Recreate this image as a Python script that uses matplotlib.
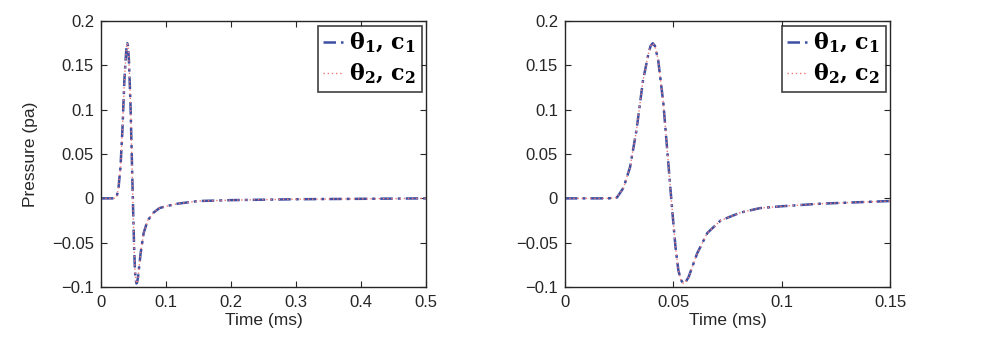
import matplotlib
matplotlib.use("Agg")
import matplotlib.pyplot as plt
import matplotlib.ticker as plticker

# pressure pulse (time in ms, pressure in pa)
time_ms = [0.0, 0.020, 0.024, 0.027, 0.030, 0.033, 0.036, 0.0385, 0.0395, 0.0405,
           0.0415, 0.043, 0.0454, 0.0477, 0.0495, 0.051, 0.0523, 0.0535, 0.0546,
           0.0555, 0.057, 0.061, 0.0657, 0.0718, 0.081, 0.090, 0.0995, 0.118,
           0.150, 0.200, 0.300, 0.400, 0.500]
p_theta1 = [0.0, 0.0, 0.001, 0.012, 0.035, 0.077, 0.133, 0.163, 0.172, 0.175,
            0.172, 0.156, 0.107, 0.039, -0.014, -0.055, -0.081, -0.092, -0.096,
            -0.095, -0.089, -0.062, -0.039, -0.025, -0.016, -0.011, -0.009, -0.006,
            -0.003, -0.002, -0.001, -0.0005, 0.0]
p_theta2 = list(p_theta1)

labels = [r"$\mathbf{\theta_1,\,c_1}$", r"$\mathbf{\theta_2,\,c_2}$"]
xlims = [(0, 0.5), (0, 0.15)]
xticks = [[0, 0.1, 0.2, 0.3, 0.4, 0.5], [0, 0.05, 0.1, 0.15]]
yticks = [-0.1, -0.05, 0, 0.05, 0.1, 0.15, 0.2]

plt.rcParams["font.family"] = ["Liberation Sans", "DejaVu Sans"]
plt.rcParams["mathtext.fontset"] = "dejavuserif"
plt.rcParams["axes.unicode_minus"] = True

txt = "#262626"
fig = plt.figure(figsize=(9.85, 3.44), dpi=100)
boxes = [[0.1025, 0.1657, 0.330, 0.773], [0.5736, 0.1657, 0.330, 0.773]]

def fmt(v, pos):
    s = ("%g" % v)
    return s.replace("-", "\u2212")

for i, box in enumerate(boxes):
    ax = fig.add_axes(box)
    ax.plot(time_ms, p_theta1, color="#3b4fa3", lw=1.8, ls=(0, (5, 2, 1.2, 2)), label=labels[0])
    ax.plot(time_ms, p_theta2, color="#f07878", lw=1.0, ls=(0, (1, 2)), label=labels[1])
    ax.set_xlim(*xlims[i])
    ax.set_ylim(-0.1, 0.2)
    ax.set_xticks(xticks[i])
    ax.set_yticks(yticks)
    ax.xaxis.set_major_formatter(plticker.FuncFormatter(fmt))
    ax.yaxis.set_major_formatter(plticker.FuncFormatter(fmt))
    ax.tick_params(direction="in", top=True, right=True, length=4, width=0.8,
                   labelsize=12, colors=txt)
    ax.tick_params(axis="x", pad=6)
    ax.tick_params(axis="y", pad=5)
    for sp in ax.spines.values():
        sp.set_linewidth(1.0)
        sp.set_color(txt)
    ax.set_xlabel("Time (ms)", fontsize=12.5, color=txt, labelpad=2)
    if i == 0:
        ax.set_ylabel("Pressure (pa)", fontsize=12.5, color=txt, labelpad=10)
    leg = ax.legend(loc="upper right", fontsize=16, frameon=True, fancybox=False,
                    borderaxespad=0.2, handlelength=0.9, handletextpad=0.25,
                    borderpad=0.25, labelspacing=0.3)
    leg.get_frame().set_edgecolor("#111111")
    leg.get_frame().set_linewidth(1.2)

plt.savefig("out.png", dpi=100)
